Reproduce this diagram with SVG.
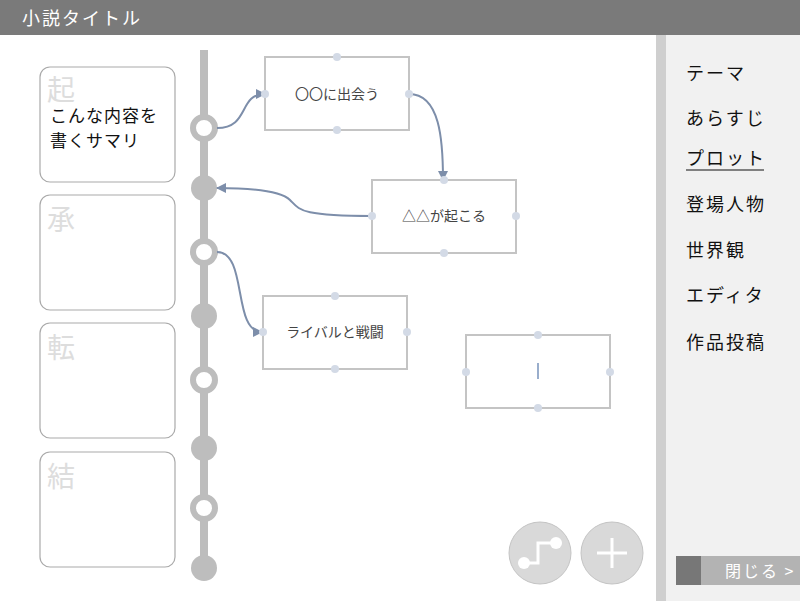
<svg xmlns="http://www.w3.org/2000/svg" width="800" height="601" viewBox="0 0 800 601">
<defs>
<style>
.card{fill:#fff;stroke:#aaa;stroke-width:1.2}
.big{font-family:"Noto Sans CJK JP",sans-serif;font-size:28px;fill:#ddd}
.node{fill:#fff;stroke:#c4c4c4;stroke-width:2}
.dot{fill:#d3dae6}
.hol{fill:#fff;stroke:#bdbdbd;stroke-width:6}
.fil{fill:#bdbdbd}
.lbl{font-family:"Noto Sans CJK JP",sans-serif;font-size:14px;fill:#444;text-anchor:middle}
.menu{font-family:"Noto Sans CJK JP",sans-serif;font-size:18px;fill:#111;letter-spacing:2px}
.con{fill:none;stroke:#7d8eaa;stroke-width:2;marker-end:url(#a)}
</style>
<marker id="a" viewBox="0 0 10 10" refX="9" refY="5" markerWidth="5" markerHeight="5" orient="auto"><path d="M0,0L10,5L0,10z" fill="#7d8eaa"/></marker>
</defs>
<rect width="800" height="601" fill="#fff"/>
<rect width="800" height="35" fill="#7a7a7a"/>
<text x="22" y="25" font-family="Noto Sans CJK JP,sans-serif" font-size="18" fill="#fff" letter-spacing="2">小説タイトル</text>
<rect x="656" y="35" width="10" height="566" fill="#cfcfcf"/>
<rect x="666" y="35" width="134" height="566" fill="#f1f1f1"/>
<g id="menu">
<text class="menu" x="686" y="80">テーマ</text>
<text class="menu" x="686" y="125">あらすじ</text>
<text class="menu" x="686" y="165">プロット</text>
<line x1="686" y1="170" x2="764" y2="170" stroke="#111" stroke-width="1.2"/>
<text class="menu" x="686" y="211">登場人物</text>
<text class="menu" x="686" y="257">世界観</text>
<text class="menu" x="686" y="302">エディタ</text>
<text class="menu" x="686" y="349">作品投稿</text>
</g>
<g id="close">
<rect x="676" y="556" width="124" height="29" fill="#b3b3b3"/>
<rect x="676" y="556" width="25" height="29" fill="#777"/>
<text x="725" y="577" font-family="Noto Sans CJK JP,sans-serif" font-size="16" fill="#fff" letter-spacing="2">閉じる &gt;</text>
</g>
<g id="cards">
<rect class="card" x="40" y="67" width="135" height="115" rx="10"/>
<text class="big" x="47" y="100">起</text>
<text x="50" y="122" font-family="Noto Sans CJK JP,sans-serif" font-size="17" fill="#111" letter-spacing="1">こんな内容を</text>
<text x="50" y="147" font-family="Noto Sans CJK JP,sans-serif" font-size="17" fill="#111" letter-spacing="1">書くサマリ</text>
<rect class="card" x="40" y="195" width="135" height="115" rx="10"/>
<text class="big" x="47" y="230">承</text>
<rect class="card" x="40" y="323" width="135" height="115" rx="10"/>
<text class="big" x="47" y="358">転</text>
<rect class="card" x="40" y="452" width="135" height="115" rx="10"/>
<text class="big" x="47" y="487">結</text>
</g>
<g id="timeline">
<rect x="200" y="50" width="8" height="520" fill="#bdbdbd"/>
<circle class="hol" cx="204" cy="128" r="11"/>
<circle class="fil" cx="204" cy="188" r="13"/>
<circle class="hol" cx="204" cy="252" r="11"/>
<circle class="fil" cx="204" cy="316" r="13"/>
<circle class="hol" cx="204" cy="380" r="11"/>
<circle class="fil" cx="204" cy="448" r="13"/>
<circle class="hol" cx="204" cy="508" r="11"/>
<circle class="fil" cx="204" cy="568" r="13"/>
</g>
<g id="connectors">
<path class="con" d="M217,128 C250,128 238,94 265,94"/>
<path class="con" d="M409,94 C440,94 443,140 443,180"/>
<path class="con" d="M372,216 C300,216 300,210 290,200 C280,190 250,188 217,188"/>
<path class="con" d="M217,252 C248,252 232,332 262,332"/>
</g>
<g id="n1"><rect class="node" x="265" y="57" width="144" height="73"/><text class="lbl" x="337" y="99">〇〇に出会う</text>
<circle class="dot" cx="337" cy="57" r="4"/><circle class="dot" cx="337" cy="130" r="4"/><circle class="dot" cx="265" cy="94" r="4"/><circle class="dot" cx="409" cy="94" r="4"/></g>
<g id="n2"><rect class="node" x="372" y="180" width="144" height="73"/><text class="lbl" x="444" y="221">△△が起こる</text>
<circle class="dot" cx="444" cy="180" r="4"/><circle class="dot" cx="444" cy="253" r="4"/><circle class="dot" cx="372" cy="216" r="4"/><circle class="dot" cx="516" cy="216" r="4"/></g>
<g id="n3"><rect class="node" x="263" y="296" width="144" height="73"/><text class="lbl" x="335" y="337">ライバルと戦闘</text>
<circle class="dot" cx="335" cy="296" r="4"/><circle class="dot" cx="335" cy="369" r="4"/><circle class="dot" cx="263" cy="332" r="4"/><circle class="dot" cx="407" cy="332" r="4"/></g>
<g id="n4"><rect class="node" x="466" y="335" width="144" height="73"/><line x1="538" y1="363" x2="538" y2="379" stroke="#5577aa" stroke-width="1.2"/>
<circle class="dot" cx="538" cy="335" r="4"/><circle class="dot" cx="538" cy="408" r="4"/><circle class="dot" cx="466" cy="372" r="4"/><circle class="dot" cx="610" cy="372" r="4"/></g>
<g id="btn1"><circle cx="540" cy="553" r="31" fill="#d9d9d9" stroke="#c4c4c4"/>
<path d="M524,563 L538,563 L538,543 L556,543" fill="none" stroke="#fff" stroke-width="3"/>
<circle cx="524" cy="563" r="6" fill="#fff"/><circle cx="556" cy="543" r="6" fill="#fff"/></g>
<g id="btn2"><circle cx="612" cy="553" r="31" fill="#d9d9d9" stroke="#c4c4c4"/>
<path d="M612,538 V568 M597,553 H627" stroke="#fff" stroke-width="3"/></g>
</svg>
